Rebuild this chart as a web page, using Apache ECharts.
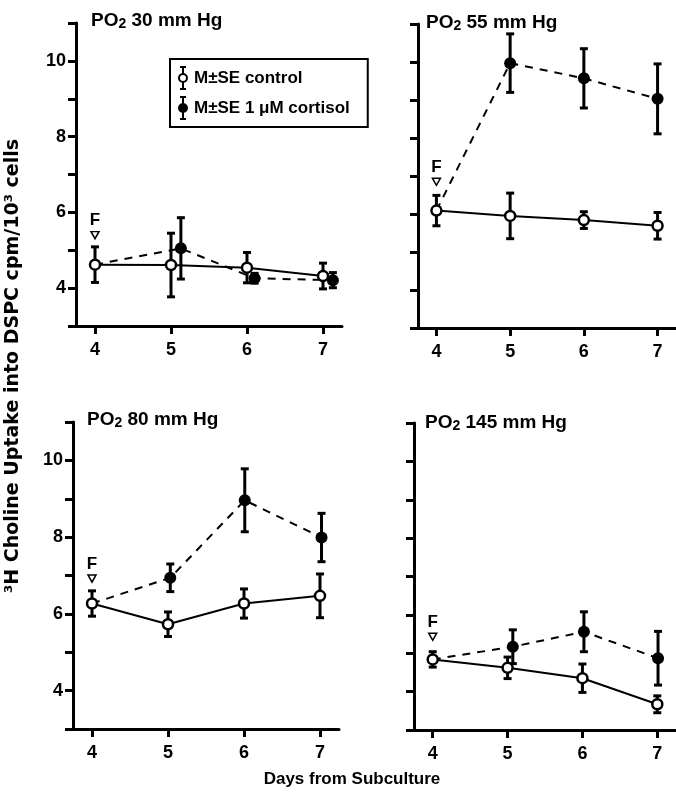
<!DOCTYPE html>
<html>
<head>
<meta charset="utf-8">
<script src="https://cdn.jsdelivr.net/npm/echarts@6/dist/echarts.min.js"></script>
<style>
  html, body { margin: 0; padding: 0; background: #fff; }
  #chart { width: 676px; height: 793px; }
</style>
</head>
<body>
<div id="chart"></div>
<script>
// days from subculture, one panel per PO2 level
const days = [4, 5, 6, 7];
const panelPO2 = ['30', '55', '80', '145'];

const controlMean = [
  [4.62, 4.61, 4.54, 4.32],
  [6.09, 5.95, 5.84, 5.69],
  [6.27, 5.73, 6.27, 6.47],
  [4.84, 4.62, 4.35, 3.67]
];
const controlSE = [
  [0.47, 0.84, 0.40, 0.34],
  [0.40, 0.60, 0.22, 0.35],
  [0.33, 0.32, 0.38, 0.57],
  [0.20, 0.28, 0.37, 0.22]
];

// cortisol points are drawn a little to the right of the day in some panels
const cortisolDays = [
  [5.13, 6.10, 7.13],
  [5.00, 6.00, 7.00],
  [5.03, 6.01, 7.02],
  [5.07, 6.02, 7.01]
];
const cortisolMean = [
  [5.05, 4.26, 4.21],
  [9.97, 9.57, 9.03],
  [6.94, 8.96, 7.99],
  [5.17, 5.56, 4.87]
];
const cortisolSE = [
  [0.81, 0.13, 0.20],
  [0.77, 0.78, 0.92],
  [0.36, 0.82, 0.63],
  [0.44, 0.52, 0.70]
];

// "F" marker height above day 4
const feedMarkY = [5.40, 6.85, 6.92, 5.43];

const CONTROL = 'M±SE control';
const CORTISOL = 'M±SE 1 μM cortisol';
const FONT = 'Liberation Sans, Arial, sans-serif';

const grids = [
  { left: 76, top: 23, width: 266, height: 303 },
  { left: 418, top: 24, width: 266, height: 304 },
  { left: 73, top: 422, width: 266, height: 307 },
  { left: 414, top: 423, width: 266, height: 307 }
];
const titlePos = [[86, 6], [421, 8], [82, 405], [420, 408]];

const ctrlIcon = 'path://M3,0H9V2H3Z M5,2H7V7.2H5Z M1,12A5,5 0 1,1 11,12A5,5 0 1,1 1,12Z M3,12A3,3 0 1,0 9,12A3,3 0 1,0 3,12Z M5,16.8H7V22H5Z M3,22H9V24H3Z';
const cortIcon = 'path://M3,0H9V2H3Z M5,2H7V7.2H5Z M1,12A5,5 0 1,1 11,12A5,5 0 1,1 1,12Z M5,16.8H7V22H5Z M3,22H9V24H3Z';

function renderErrorBar(params, api) {
  const x = api.value(0);
  const top = api.coord([x, api.value(2)]);
  const bot = api.coord([x, api.value(1)]);
  const cap = 4;
  const style = { stroke: '#000', lineWidth: 3 };
  return {
    type: 'group',
    children: [
      { type: 'line', shape: { x1: top[0], y1: top[1], x2: bot[0], y2: bot[1] }, style: style },
      { type: 'line', shape: { x1: top[0] - cap, y1: top[1], x2: top[0] + cap, y2: top[1] }, style: style },
      { type: 'line', shape: { x1: bot[0] - cap, y1: bot[1], x2: bot[0] + cap, y2: bot[1] }, style: style }
    ]
  };
}

const xAxes = [];
const yAxes = [];
const series = [];
const titles = [];

grids.forEach(function (g, i) {
  xAxes.push({
    gridIndex: i,
    type: 'value',
    min: 3.75,
    max: 7.25,
    axisLine: { onZero: false, lineStyle: { color: '#000', width: 3 } },
    axisTick: { show: true, customValues: days, length: 8, lineStyle: { color: '#000', width: 3 } },
    axisLabel: { customValues: days, color: '#000', fontSize: 18, fontWeight: 'bold', fontFamily: FONT, margin: 15 },
    splitLine: { show: false }
  });
  yAxes.push({
    gridIndex: i,
    type: 'value',
    min: 3,
    max: 11,
    interval: 1,
    axisLine: { show: true, lineStyle: { color: '#000', width: 3 } },
    axisTick: { show: true, length: 8, lineStyle: { color: '#000', width: 3 } },
    axisLabel: {
      show: i % 2 === 0,
      color: '#000', fontSize: 18, fontWeight: 'bold', fontFamily: FONT, margin: 10,
      formatter: function (v) { return (v % 2 === 0) ? String(v) : ''; }
    },
    splitLine: { show: false }
  });

  titles.push({
    left: titlePos[i][0],
    top: titlePos[i][1],
    text: '{a|PO}{b|2}{a| ' + panelPO2[i] + ' mm Hg}',
    textStyle: {
      rich: {
        a: { fontSize: 19, fontWeight: 'bold', fontFamily: FONT, color: '#000', lineHeight: 20, verticalAlign: 'top' },
        b: { fontSize: 14, fontWeight: 'bold', fontFamily: FONT, color: '#000', lineHeight: 14, padding: [10, 0, 0, 0], verticalAlign: 'bottom' }
      }
    }
  });

  const ctrlData = days.map(function (d, k) { return [d, controlMean[i][k]]; });
  const cortData = [{ value: [days[0], controlMean[i][0]], symbol: 'none' }].concat(
    cortisolDays[i].map(function (d, k) { return [d, cortisolMean[i][k]]; })
  );
  const ctrlErr = days.map(function (d, k) {
    return [d, controlMean[i][k] - controlSE[i][k], controlMean[i][k] + controlSE[i][k]];
  });
  const cortErr = cortisolDays[i].map(function (d, k) {
    return [d, cortisolMean[i][k] - cortisolSE[i][k], cortisolMean[i][k] + cortisolSE[i][k]];
  });

  series.push({
    name: CORTISOL, type: 'line', xAxisIndex: i, yAxisIndex: i, data: cortData,
    symbol: 'circle', symbolSize: 12,
    itemStyle: { color: '#000' },
    lineStyle: { color: '#000', width: 2, type: [8, 7] },
    z: 3, silent: true
  });
  series.push({
    name: CONTROL, type: 'line', xAxisIndex: i, yAxisIndex: i, data: ctrlData,
    symbol: 'circle', symbolSize: 10,
    itemStyle: { color: '#fff', borderColor: '#000', borderWidth: 2.5 },
    lineStyle: { color: '#000', width: 2 },
    z: 4, silent: true
  });
  series.push({
    name: CORTISOL, type: 'custom', xAxisIndex: i, yAxisIndex: i, data: cortErr,
    renderItem: renderErrorBar, encode: { x: 0, y: [1, 2] }, z: 2, silent: true
  });
  series.push({
    name: CONTROL, type: 'custom', xAxisIndex: i, yAxisIndex: i, data: ctrlErr,
    renderItem: renderErrorBar, encode: { x: 0, y: [1, 2] }, z: 2, silent: true
  });
  series.push({
    name: 'F', type: 'scatter', xAxisIndex: i, yAxisIndex: i,
    data: [[days[0], feedMarkY[i]]],
    symbol: 'triangle', symbolRotate: 180, symbolSize: [8, 7],
    itemStyle: { color: '#fff', borderColor: '#000', borderWidth: 1.5, opacity: 1 },
    label: { show: true, formatter: 'F', position: 'top', distance: 2, color: '#000', opacity: 1, fontSize: 17, fontWeight: 'bold', fontFamily: FONT },
    silent: true
  });
});

const chart = echarts.init(document.getElementById('chart'));
chart.setOption({
  backgroundColor: '#fff',
  animation: false,
  title: titles,
  grid: grids,
  xAxis: xAxes,
  yAxis: yAxes,
  legend: {
    left: 170, top: 59, orient: 'vertical',
    itemWidth: 12, itemHeight: 24, itemGap: 6,
    padding: [7, 18, 7, 8],
    borderColor: '#000', borderWidth: 2,
    textStyle: { color: '#000', fontSize: 17, fontWeight: 'bold', fontFamily: FONT },
    selectedMode: false,
    data: [
      { name: CONTROL, icon: ctrlIcon, itemStyle: { color: '#000', borderWidth: 0 } },
      { name: CORTISOL, icon: cortIcon, itemStyle: { color: '#000', borderWidth: 0 } }
    ]
  },
  graphic: [
    {
      type: 'text', x: 13, y: 366, rotation: Math.PI / 2,
      style: {
        text: '³H Choline Uptake into DSPC cpm/10³ cells',
        font: 'bold 19px DejaVu Sans, sans-serif', fill: '#000',
        textAlign: 'center', textVerticalAlign: 'middle'
      }
    },
    {
      type: 'text', x: 352, y: 779,
      style: {
        text: 'Days from Subculture',
        font: 'bold 17px ' + FONT, fill: '#000',
        textAlign: 'center', textVerticalAlign: 'middle'
      }
    }
  ],
  series: series
});
</script>
</body>
</html>
